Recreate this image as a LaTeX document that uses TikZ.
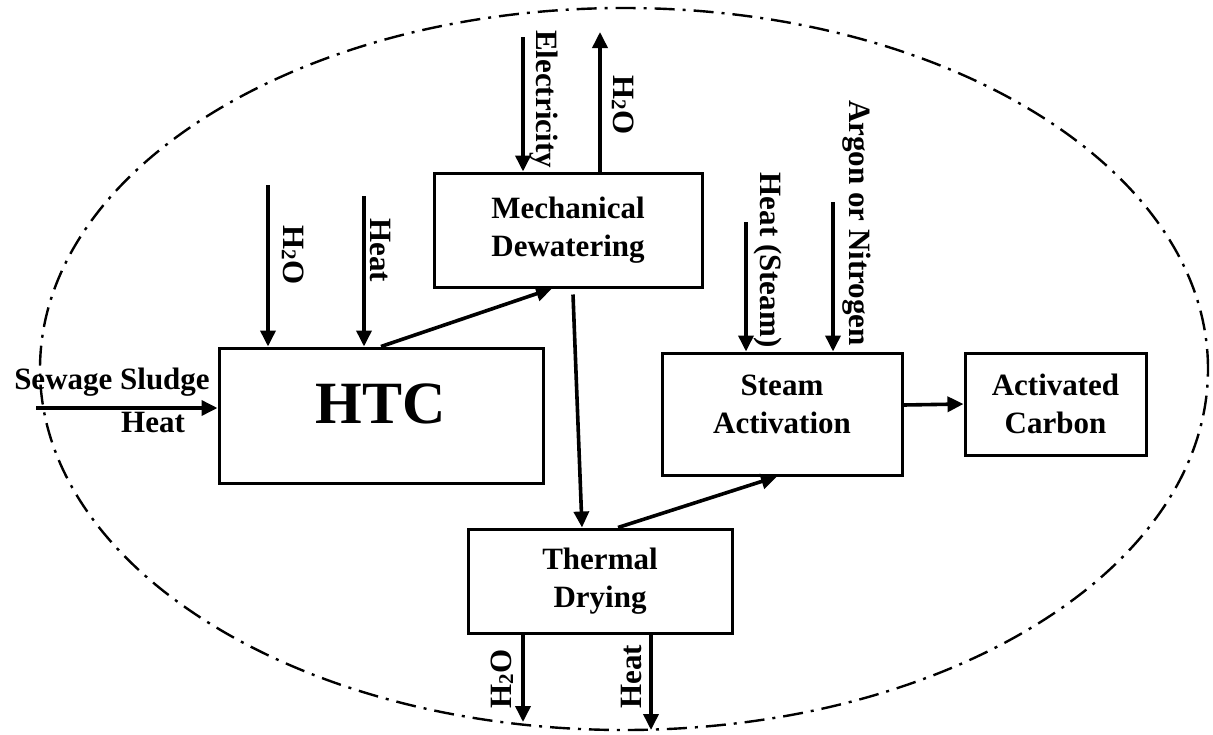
\documentclass[tikz,border=0pt]{standalone}
\usepackage{fontspec}
\setmainfont{Liberation Serif}
\usetikzlibrary{arrows.meta,calc}

\newcommand{\water}{H\raisebox{-1.5pt}{\fontsize{21}{21}\selectfont 2}O}

\tikzset{
  procbox/.style={draw, line width=3pt, inner sep=0pt, align=center,
    font=\fontsize{31}{38}\selectfont\bfseries},
  flow/.style={line width=3.6pt, -{Triangle[length=16pt,width=15pt]}},
  vlabel/.style={inner sep=0pt, font=\fontsize{31}{38}\selectfont\bfseries},
  hlabel/.style={inner sep=0pt, anchor=base, font=\fontsize{31}{38}\selectfont\bfseries},
  boundary/.style={line width=2.4pt, dash pattern=on 20pt off 8pt on 3pt off 8pt}
}

\begin{document}
\begin{tikzpicture}[x=1pt,y=-1pt]
\useasboundingbox (0,0) rectangle (1213,734);

% system boundary
\draw[boundary] (624,369) ellipse [x radius=584pt, y radius=361pt];

% process units
\node[procbox, minimum width=324pt, minimum height=135pt,
      label={[yshift=12pt,font=\fontsize{60}{60}\selectfont\bfseries]center:HTC}]
      (htc) at (381,415.5) {};
\node[procbox, minimum width=268pt, minimum height=114pt] (md) at (568,230)
      {Mechanical\\Dewatering};
\node[procbox, minimum width=240pt, minimum height=122pt,
      label={[yshift=10pt,align=center,font=\fontsize{31}{38}\selectfont\bfseries]center:Steam\\Activation}]
      (sa) at (782,414) {};
\node[procbox, minimum width=181pt, minimum height=102pt] (ac) at (1055.5,404)
      {Activated\\Carbon};
\node[procbox, minimum width=264pt, minimum height=104pt] (td) at (600,581)
      {Thermal\\Drying};

% free ends of the streams
\coordinate (sludge) at (36,408);
\coordinate (htcwater) at (268,185);
\coordinate (htcheat) at (364,196);
\coordinate (power) at (523,37);
\coordinate (mdwater) at (600,32);
\coordinate (steam) at (746,222);
\coordinate (gas) at (833,202);
\coordinate (tdwater) at (523,722);
\coordinate (tdheat) at (651,730);

% HTC inputs
\draw[flow] (sludge) -- (sludge -| htc.west);
\draw[flow] (htcwater) -- (htcwater |- htc.north);
\draw[flow] (htcheat) -- (htcheat |- htc.north);
\node[hlabel] (lsludge) at (112,389) {Sewage Sludge};
\node[hlabel] (lheat) at (153,432) {Heat};
\node[vlabel, rotate=-90] (lhtcwater) at (293,255) {\water};
\node[vlabel, rotate=-90] (lhtcheat) at (380,250) {Heat};

% main product line
\draw[flow] (htc.north) -- ([xshift=-16pt]md.south);
\draw[flow] ([xshift=5pt,yshift=-6pt]md.south) -- ([xshift=-18pt]td.north);
\draw[flow] ([xshift=18pt]td.north) -- ([xshift=-5pt]sa.south);
\draw[flow] ([yshift=9pt]sa.east) -- (ac.west);

% mechanical dewatering streams
\draw[flow] (power) -- (power |- md.north);
\draw[flow] (mdwater |- md.north) -- (mdwater);
\node[vlabel, rotate=-90] (lpower) at (544,99) {Electricity};
\node[vlabel, rotate=-90] (lmdwater) at (623,105) {\water};

% activation inputs
\draw[flow] (steam) -- (steam |- sa.north);
\draw[flow] (gas) -- (gas |- sa.north);
\node[vlabel, rotate=-90] (lsteam) at (768,260) {Heat (Steam)};
\node[vlabel, rotate=-90] (lgas) at (857,223) {Argon or Nitrogen};

% drying outputs
\draw[flow] (tdwater |- td.south) -- (tdwater);
\draw[flow] (tdheat |- td.south) -- (tdheat);
\node[vlabel, rotate=90] (ltdwater) at (502,679) {\water};
\node[vlabel, rotate=90] (ltdheat) at (631,677) {Heat};
\end{tikzpicture}
\end{document}
